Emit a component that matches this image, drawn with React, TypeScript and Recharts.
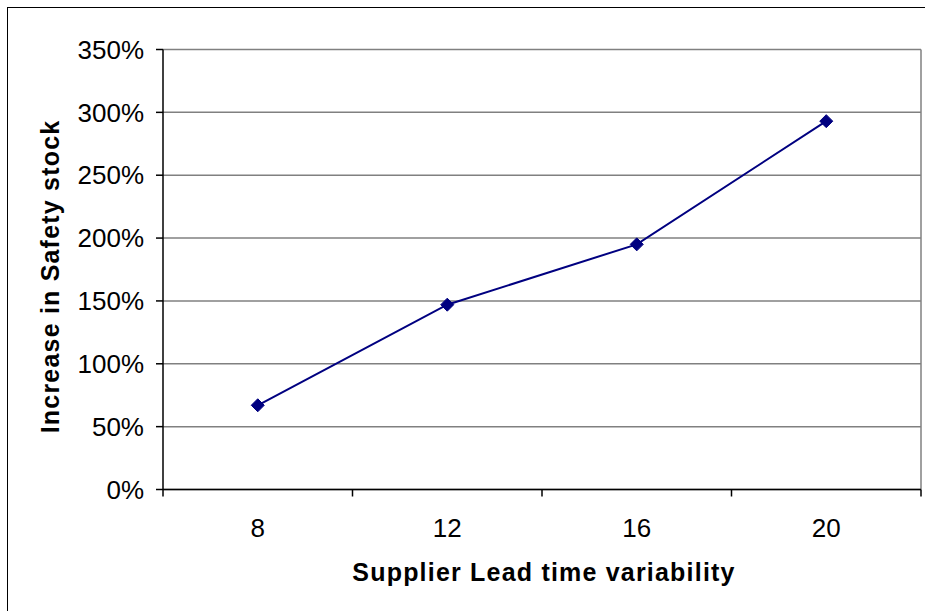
import React from 'react';
import { LineChart, Line, XAxis, YAxis, CartesianGrid, ReferenceLine } from 'recharts';

const leadTimes = [8, 12, 16, 20];
const safetyIncrease = [67, 147, 195, 293];
const yTicks = [0, 50, 100, 150, 200, 250, 300, 350];
const xLabelTicks = [8, 12, 16, 20];
const xBoundaryTicks = [6, 10, 14, 18, 22];

const data = leadTimes.map((lt, i) => ({ lt, value: safetyIncrease[i] }));
const allXTicks = [...xBoundaryTicks, ...xLabelTicks].sort((a, b) => a - b);

const FONT = '"Liberation Sans", Arial, sans-serif';

const XTick = (props: any) => {
    const { x, y, payload } = props;
    const v = payload.value;
    if (xBoundaryTicks.includes(v)) {
        return <line x1={x} x2={x} y1={y} y2={y + 7} stroke="#000" strokeWidth={1.5} />;
    }
    return (
        <text x={x} y={y + 47.5} textAnchor="middle" fill="#000" fontSize={26} fontFamily={FONT}>
            {v}
        </text>
    );
};

const Diamond = (props: any) => {
    const { cx, cy } = props;
    if (cx == null || cy == null) return null;
    const r = 6.5;
    return (
        <polygon
            points={`${cx},${cy - r} ${cx + r},${cy} ${cx},${cy + r} ${cx - r},${cy}`}
            fill="#000080"
            stroke="#000080"
        />
    );
};

const YLabel = (props: any) => {
    const { viewBox } = props;
    const cx = viewBox.x + 50;
    const cy = viewBox.y + viewBox.height / 2 + 7;
    return (
        <text
            x={cx}
            y={cy}
            transform={`rotate(-90, ${cx}, ${cy})`}
            textAnchor="middle"
            dominantBaseline="central"
            fontSize={25}
            fontWeight="bold"
            letterSpacing={1.2}
            fontFamily={FONT}
            fill="#000"
        >
            Increase in Safety stock
        </text>
    );
};

const XLabel = (props: any) => {
    const { viewBox } = props;
    return (
        <text
            x={viewBox.x + viewBox.width / 2 + 2}
            y={viewBox.y + 91.5}
            textAnchor="middle"
            fontSize={25}
            fontWeight="bold"
            letterSpacing={1.2}
            fontFamily={FONT}
            fill="#000"
        >
            Supplier Lead time variability
        </text>
    );
};

export default function App() {
    return (
        <div style={{ position: 'absolute', left: 0, top: 0, width: 925, height: 611, overflow: 'hidden', background: '#fff' }}>
            <div
                style={{
                    position: 'absolute',
                    left: 7,
                    top: 7,
                    width: 940,
                    height: 640,
                    border: '1.5px solid #000',
                }}
            />
            <div style={{ position: 'absolute', left: 0, top: 0 }}>
                <LineChart width={925} height={611} data={data} margin={{ top: 49.5, right: 4, left: 0, bottom: 0 }}>
                    <CartesianGrid vertical={false} stroke="#808080" strokeWidth={1.5} />
                    <ReferenceLine x={22} stroke="#808080" strokeWidth={1.5} />
                    <XAxis
                        dataKey="lt"
                        type="number"
                        domain={[6, 22]}
                        ticks={allXTicks}
                        interval={0}
                        tick={<XTick />}
                        tickLine={false}
                        tickSize={0}
                        tickMargin={0}
                        height={121.5}
                        stroke="#000"
                        strokeWidth={1.5}
                        label={<XLabel />}
                    />
                    <YAxis
                        domain={[0, 350]}
                        ticks={yTicks}
                        interval={0}
                        width={163}
                        tickSize={7}
                        tickMargin={12}
                        stroke="#000"
                        strokeWidth={1.5}
                        tickFormatter={(v) => `${v}%`}
                        tick={{ fill: '#000', fontSize: 26, fontFamily: FONT }}
                        label={<YLabel />}
                    />
                    <Line
                        dataKey="value"
                        stroke="#000080"
                        strokeWidth={2}
                        dot={<Diamond />}
                        activeDot={false}
                        isAnimationActive={false}
                    />
                </LineChart>
            </div>
        </div>
    );
}
